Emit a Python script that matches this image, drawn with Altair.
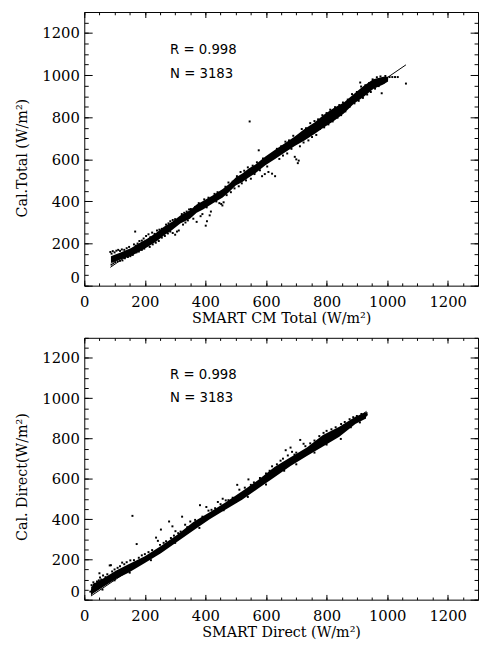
import altair as alt
import pandas as pd

# ---------------- data ----------------
major_ticks = [0, 200, 400, 600, 800, 1000, 1200]
minor_ticks = [0, 50, 100, 150, 200, 250, 300, 350, 400, 450, 500, 550, 600, 650,
               700, 750, 800, 850, 900, 950, 1000, 1050, 1100, 1150, 1200, 1250, 1300]

stats_labels = ["R  = 0.998", "N  =  3183"]

# top panel: dense core of the cloud (lower / upper edge), fringe points, fit line
top_band_x = [88, 120, 155, 185, 209, 240, 263, 290, 317, 349, 371, 392, 425, 457, 479, 500, 522,
              543, 565, 598, 630, 662, 695, 727, 760, 792, 825, 857, 890, 922, 954, 987, 1003]
top_band_lo = [108, 124, 141, 165, 184, 212, 238, 264, 295, 318, 346, 362, 391, 419, 446, 476, 493,
               514, 534, 572, 602, 633, 664, 690, 720, 752, 783, 818, 864, 896, 934, 956, 970]
top_band_hi = [140, 158, 179, 205, 224, 254, 280, 304, 333, 358, 386, 402, 429, 459, 484, 514, 533,
               556, 576, 614, 646, 677, 708, 744, 775, 813, 845, 870, 910, 948, 980, 992, 992]

top_pts_x = [86, 90, 94, 100, 106, 112, 118, 124, 132, 140, 148, 90, 96, 102, 110, 118, 126, 134, 144,
             152, 160, 168, 164, 170, 176, 182, 190, 196, 172, 180, 190, 198,
             204, 212, 218, 224, 232, 240, 248, 256, 216, 226, 236, 246, 256, 266, 270, 278, 284, 292,
             300, 276, 284, 292, 300, 306, 312, 322, 330, 338, 346, 326, 334, 342, 352, 360, 366, 371,
             378, 384, 390, 396, 401, 405, 410, 414, 418, 404,
             430, 436, 440, 446, 452, 456, 460, 466, 470, 476, 484, 490, 496, 504, 510, 516, 520, 528,
             534, 540, 546, 550, 556, 562, 570, 576, 580, 587, 590, 596, 604, 608, 616, 620, 630,
             636, 644, 650, 656, 664, 670, 676, 684, 690, 695, 700, 705, 708, 712, 718, 724, 732, 740,
             746, 752, 760, 766, 772, 778, 786, 792, 800,
             806, 812, 820, 828, 836, 842, 848, 854, 862, 870, 876, 884, 892, 900, 906, 911, 914, 920,
             928, 934, 940, 946, 952, 960, 966, 972, 978, 982, 988, 994, 1000, 1008, 1017, 1026, 1035, 1062]
top_pts_y = [160, 152, 164, 158, 166, 170, 165, 172, 170, 178, 184, 100, 106, 112, 116, 118, 120, 130, 136,
             140, 146, 257, 196, 190, 200, 212, 214, 224, 158, 162, 170, 176,
             236, 244, 230, 252, 246, 262, 266, 270, 184, 196, 204, 212, 228, 236, 290, 296, 306, 312,
             316, 248, 257, 250, 242, 257, 262, 340, 346, 352, 362, 290, 300, 310, 364, 318, 374, 303,
             392, 330, 340, 410, 285, 306, 418, 334, 352, 372,
             436, 400, 444, 392, 388, 381, 396, 470, 430, 490, 444, 494, 462, 520, 472, 540, 486, 546,
             500, 562, 780, 508, 570, 530, 586, 643, 548, 520, 604, 530, 566, 540, 620, 532, 520,
             650, 602, 662, 618, 684, 628, 690, 650, 712, 612, 600, 582, 594, 662, 744, 680, 748, 690,
             772, 706, 782, 716, 790, 744, 810, 752, 820,
             766, 836, 780, 848, 798, 858, 810, 870, 828, 884, 850, 910, 866, 920, 878, 965, 946, 892,
             952, 908, 962, 920, 980, 936, 990, 948, 994, 914, 964, 996, 984, 991, 991, 991, 991, 960]
top_fit_x = [86, 1062]
top_fit_y = [87, 1049]

# bottom panel
bot_band_x = [22, 29, 61, 104, 146, 200, 253, 307, 360, 414, 467, 521, 574, 628, 681, 735, 788,
              842, 895, 927, 935]
bot_band_lo = [20, 30, 62, 102, 134, 182, 231, 287, 343, 399, 448, 496, 552, 608, 664, 713, 761,
               809, 872, 897, 918]
bot_band_hi = [52, 78, 104, 144, 176, 216, 266, 322, 385, 434, 483, 538, 594, 658, 707, 755, 818,
               859, 908, 929, 932]

bot_pts_x = [20, 24, 26, 30, 34, 38, 42, 48, 52, 56, 50, 62, 70, 76, 84, 88, 92, 100, 110, 118, 125,
             132, 140, 152, 159, 164, 173, 180, 190, 200, 212, 224, 237, 243, 250, 253, 262, 270,
             280, 286, 291, 296, 301, 310, 318, 323, 333, 340, 350, 366, 382, 390, 403, 410, 420,
             432, 441, 450, 457, 467, 476, 490, 505, 512, 530, 542, 550, 560, 580, 600, 612, 620,
             636, 648, 656, 665, 672, 681, 686, 694, 700, 713, 724, 730, 746, 760, 776, 790, 800,
             816, 830, 848, 860, 876, 888, 900, 915, 927, 932,
             60, 100, 150, 220, 300, 380, 460, 540, 600, 660, 700, 760, 800, 847, 880, 910]
bot_pts_y = [40, 72, 60, 86, 78, 70, 90, 96, 110, 100, 131, 120, 112, 126, 170, 171, 140, 150, 158,
             166, 184, 176, 186, 195, 416, 196, 276, 208, 220, 226, 236, 246, 308, 292, 272, 348,
             282, 290, 388, 306, 364, 318, 340, 330, 338, 412, 372, 360, 388, 396, 469, 412, 460,
             442, 446, 454, 485, 474, 501, 493, 494, 506, 570, 546, 556, 597, 570, 582, 604, 626,
             640, 662, 672, 690, 700, 742, 716, 755, 734, 720, 730, 793, 774, 762, 776, 790, 812,
             828, 838, 846, 856, 872, 882, 896, 906, 912, 922, 903, 918,
             50, 96, 134, 196, 282, 356, 444, 510, 572, 640, 672, 730, 770, 798, 856, 880]
bot_fit_x = [22, 932]
bot_fit_y = [18, 935]

stats_x = [283, 283]
stats_y = [1117, 1003]

SERIF = "DejaVu Serif"


def panel(band_x, band_lo, band_hi, pts_x, pts_y, fit_x, fit_y, xtitle, ytitle, w, h, ytitle_y):
    xs = alt.Scale(domain=[0, 1300], nice=False, zero=False)
    ys = alt.Scale(domain=[0, 1300], nice=False, zero=False)
    band = pd.DataFrame({"x": band_x, "lo": band_lo, "hi": band_hi})
    pts = pd.DataFrame({"x": pts_x, "y": pts_y})
    fit = pd.DataFrame({"x": fit_x, "y": fit_y})
    txt = pd.DataFrame({"label": stats_labels, "x": stats_x, "y": stats_y})

    xlen = round(h * 0.02, 1)
    ylen = round(w * 0.02, 1)

    core = alt.Chart(band).mark_area(color="black", interpolate="linear").encode(
        x=alt.X("x:Q", scale=xs, axis=alt.Axis(
            orient="bottom", values=major_ticks, format="d", title=xtitle, ticks=False,
            tickSize=0, domain=False, grid=False, labelFlush=False, labelPadding=9,
            titlePadding=2.5)),
        y=alt.Y("lo:Q", scale=ys, axis=alt.Axis(
            orient="left", values=major_ticks, format="d", title=ytitle, ticks=False,
            tickSize=0, domain=False, grid=False, labelFlush=False, labelPadding=5,
            titleX=-56, titleY=ytitle_y, titleAngle=270, titleAlign="center",
            titleBaseline="bottom",
            labelBaseline={"condition": {"test": "datum.value === 0", "value": "bottom"},
                           "value": "middle"})),
        y2="hi:Q",
    )
    dots = alt.Chart(pts).mark_square(size=4, color="black", opacity=1).encode(
        x=alt.X("x:Q", scale=xs, axis=None),
        y=alt.Y("y:Q", scale=ys, axis=None),
    )
    line = alt.Chart(fit).mark_line(color="black", strokeWidth=1).encode(
        x=alt.X("x:Q", scale=xs, axis=None),
        y=alt.Y("y:Q", scale=ys, axis=None),
    )
    text = alt.Chart(txt).mark_text(align="left", baseline="middle", font="DejaVu Sans",
                                    fontSize=13.5, color="black").encode(
        x=alt.X("x:Q", scale=xs, axis=None),
        y=alt.Y("y:Q", scale=ys, axis=None),
        text="label:N",
    )

    def ticks(xorient, yorient, values, xl, yl):
        common = dict(values=values, labels=False, domain=False, grid=False, title=None,
                      ticks=True, tickColor="black", tickWidth=1, minExtent=0, maxExtent=0)
        return alt.Chart(pts).mark_point(opacity=0).encode(
            x=alt.X("x:Q", scale=xs, axis=alt.Axis(orient=xorient, tickSize=xl, offset=-xl,
                                                   **common)),
            y=alt.Y("y:Q", scale=ys, axis=alt.Axis(orient=yorient, tickSize=yl, offset=-yl,
                                                   **common)),
        )

    layers = [core, dots, line, text,
              ticks("bottom", "left", major_ticks, xlen, ylen),
              ticks("top", "right", major_ticks, xlen, ylen),
              ticks("bottom", "left", minor_ticks, xlen / 2, ylen / 2),
              ticks("top", "right", minor_ticks, xlen / 2, ylen / 2)]
    return alt.layer(*layers).resolve_axis(x="independent", y="independent").properties(
        width=w, height=h)


top = panel(top_band_x, top_band_lo, top_band_hi, top_pts_x, top_pts_y, top_fit_x, top_fit_y,
            "SMART CM Total (W/m²)", "Cal.Total (W/m²)", 400, 278, 148)
bottom = panel(bot_band_x, bot_band_lo, bot_band_hi, bot_pts_x, bot_pts_y, bot_fit_x, bot_fit_y,
               "SMART Direct (W/m²)", "Cal. Direct(W/m²)", 400, 266, 141)

chart = alt.vconcat(top, bottom, spacing=11).properties(
    padding={"left": 5.5, "top": -2, "right": 0, "bottom": 0},
    background="white",
).configure_view(stroke="black", strokeWidth=1).configure_axis(
    labelFont=SERIF, labelFontSize=15, labelColor="black",
    titleFont=SERIF, titleFontSize=14.5, titleFontWeight="normal", titleColor="black",
)

chart.save("out.html", embed_options={"renderer": "svg", "actions": False})
